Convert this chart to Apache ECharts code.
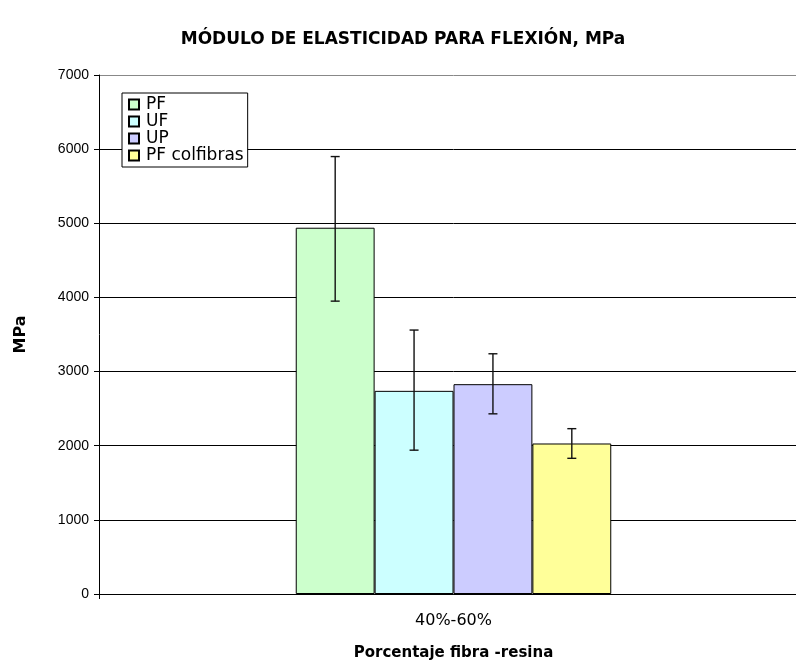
<!DOCTYPE html>
<html>
<head>
<meta charset="utf-8">
<script src="https://cdn.jsdelivr.net/npm/echarts@6/dist/echarts.min.js"></script>
<style>
  html, body { margin: 0; padding: 0; background: #fff; overflow: hidden; }
  #wrap { width: 796px; height: 666px; overflow: hidden; }
  /* plot frame runs a little past the right edge of the visible page */
  #chart { width: 812px; height: 666px; }
</style>
</head>
<body>
<div id="wrap"><div id="chart"></div></div>
<script>
// Flexural modulus by resin type, with error bars (MPa)
const categories = ['40%-60%'];
const seriesNames = ['PF', 'UF', 'UP', 'PF colfibras'];
const meanValues = [4940, 2740, 2830, 2030];
const errLow = [3950, 1940, 2430, 1830];
const errHigh = [5900, 3560, 3240, 2230];
const barColors = ['#CCFFCC', '#CCFFFF', '#CCCCFF', '#FFFF99'];
const yTicks = { min: 0, max: 7000, interval: 1000 };

const FONT = 'Liberation Sans, Arial, sans-serif';
const WIDE = 'DejaVu Sans, Verdana, sans-serif';
const GAP = 0.555; // share of each category band left empty

const chart = echarts.init(document.getElementById('chart'), null, { renderer: 'canvas' });

const barSeries = seriesNames.map((name, i) => ({
  name: name,
  type: 'bar',
  barGap: '0%',
  barCategoryGap: (GAP * 100) + '%',
  data: [meanValues[i]],
  itemStyle: { color: barColors[i], borderColor: '#000', borderWidth: 1 },
  emphasis: { disabled: true },
  z: 2
}));

// One custom series draws every whisker, offset into its bar's slot
const errorSeries = {
  type: 'custom',
  name: 'error',
  silent: true,
  z: 5,
  data: seriesNames.map((_, i) => [0, errLow[i], errHigh[i], i]),
  renderItem: function (params, api) {
    const idx = api.value(3);
    const band = api.size([1, 0])[0];
    const barW = band * (1 - GAP) / seriesNames.length;
    const center = api.coord([api.value(0), 0])[0];
    const x = center + (idx - (seriesNames.length - 1) / 2) * barW;
    const yLo = api.coord([0, api.value(1)])[1];
    const yHi = api.coord([0, api.value(2)])[1];
    const cap = 4.5;
    const style = { stroke: '#111', lineWidth: 1.4 };
    return {
      type: 'group',
      children: [
        { type: 'line', shape: { x1: x, y1: yLo, x2: x, y2: yHi }, style: style },
        { type: 'line', shape: { x1: x - cap, y1: yHi, x2: x + cap, y2: yHi }, style: style },
        { type: 'line', shape: { x1: x - cap, y1: yLo, x2: x + cap, y2: yLo }, style: style }
      ]
    };
  }
};

chart.setOption({
  animation: false,
  backgroundColor: '#fff',
  title: {
    text: 'MÓDULO DE ELASTICIDAD PARA FLEXIÓN, MPa',
    left: 398,
    textAlign: 'center',
    top: 26,
    textStyle: { fontFamily: WIDE, fontSize: 17, fontWeight: 'bold', color: '#000' }
  },
  legend: {
    data: seriesNames,
    orient: 'vertical',
    left: 122,
    top: 93,
    padding: [3, 4, 3, 6],
    itemGap: 0,
    itemWidth: 10,
    itemHeight: 10,
    icon: 'rect',
    borderColor: '#000',
    borderWidth: 1,
    backgroundColor: '#fff',
    selectedMode: false,
    textStyle: { fontFamily: WIDE, fontSize: 17, color: '#000', lineHeight: 17, padding: [0, 0, 0, 2] }
  },
  grid: { left: 99, top: 75, width: 709, height: 520, containLabel: false },
  xAxis: {
    type: 'category',
    data: categories,
    boundaryGap: true,
    name: 'Porcentaje fibra -resina',
    nameLocation: 'middle',
    nameGap: 52,
    nameTextStyle: { fontFamily: WIDE, fontSize: 15, fontWeight: 'bold', color: '#000' },
    axisLine: { lineStyle: { color: '#000', width: 1 } },
    axisTick: { show: true, length: 5, lineStyle: { color: '#000' } },
    axisLabel: { fontFamily: WIDE, fontSize: 16, color: '#000', margin: 19 }
  },
  yAxis: {
    type: 'value',
    min: yTicks.min,
    max: yTicks.max,
    interval: yTicks.interval,
    name: 'MPa',
    nameLocation: 'middle',
    nameGap: 70,
    nameRotate: 90,
    nameTextStyle: { fontFamily: WIDE, fontSize: 16, fontWeight: 'bold', color: '#000' },
    axisLine: { show: true, lineStyle: { color: '#000', width: 1 } },
    axisTick: { show: true, length: 5, inside: false, lineStyle: { color: '#000' } },
    axisLabel: {
      fontFamily: FONT, fontSize: 14, color: '#000', margin: 10,
      formatter: (v) => String(v)
    },
    splitLine: { show: true, lineStyle: { color: ['#000', '#000', '#000', '#000', '#000', '#000', '#000', '#888'], width: 1 } }
  },
  series: barSeries.concat([errorSeries])
});
</script>
</body>
</html>
